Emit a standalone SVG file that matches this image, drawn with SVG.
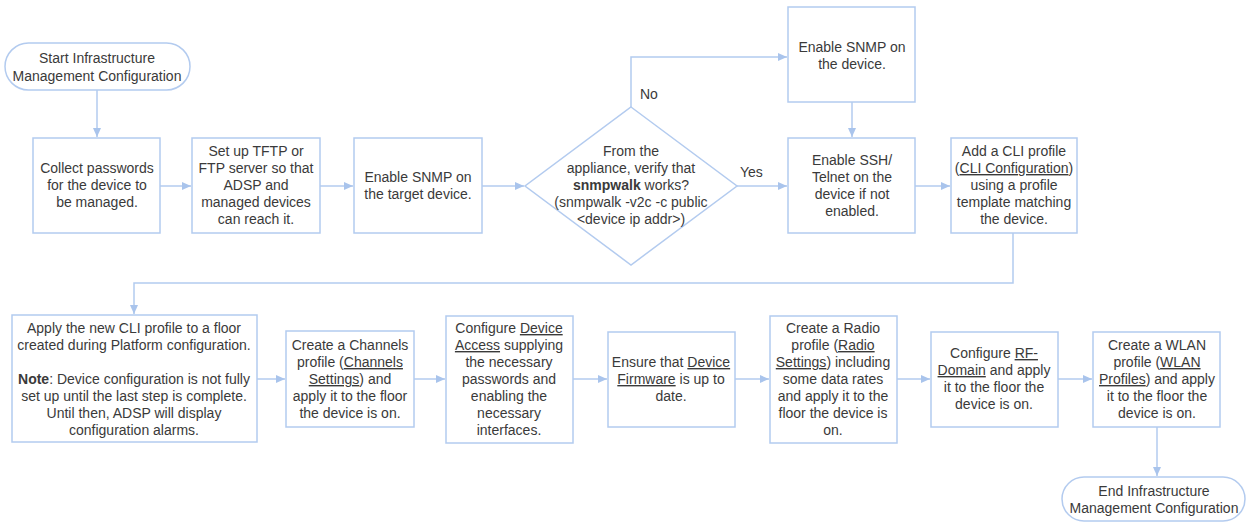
<svg xmlns="http://www.w3.org/2000/svg" width="1249" height="522" viewBox="0 0 1249 522">
<style>
.n{fill:#fff;stroke:#b3cbef;stroke-width:1.5}
.t{font-family:"Liberation Sans",Arial,sans-serif;font-size:14px;fill:#3a3a3a;text-anchor:middle}
.u{text-decoration:underline}
.c{fill:none;stroke:#b3cbef;stroke-width:1.5}
.l{font-family:"Liberation Sans",Arial,sans-serif;font-size:14px;fill:#3a3a3a}
</style>
<defs>
<marker id="a" markerWidth="10" markerHeight="10" refX="9" refY="5" orient="auto" markerUnits="userSpaceOnUse">
<path d="M0,1 L9,5 L0,9 Z" fill="#a9c4ec"/>
</marker>
</defs>
<g id="connectors">
<path class="c" d="M97,90 V137" marker-end="url(#a)"/>
<path class="c" d="M160,186 H191" marker-end="url(#a)"/>
<path class="c" d="M320,186 H353" marker-end="url(#a)"/>
<path class="c" d="M482,186 H524" marker-end="url(#a)"/>
<path class="c" d="M631,107 V57 H787" marker-end="url(#a)"/>
<path class="c" d="M737,186 H787" marker-end="url(#a)"/>
<path class="c" d="M852,102 V137" marker-end="url(#a)"/>
<path class="c" d="M915,186 H950" marker-end="url(#a)"/>
<path class="c" d="M1013,233 V283 H134 V314" marker-end="url(#a)"/>
<path class="c" d="M257,379 H285" marker-end="url(#a)"/>
<path class="c" d="M414,379 H445" marker-end="url(#a)"/>
<path class="c" d="M573,379 H607" marker-end="url(#a)"/>
<path class="c" d="M735,379 H769" marker-end="url(#a)"/>
<path class="c" d="M897,379 H930" marker-end="url(#a)"/>
<path class="c" d="M1058,379 H1092" marker-end="url(#a)"/>
<path class="c" d="M1157,427 V476" marker-end="url(#a)"/>
<text class="l" x="640" y="99">No</text>
<text class="l" x="740" y="177">Yes</text>
</g>
<g id="start">
<rect class="n" x="5" y="43" width="185" height="47" rx="23.5"/>
<text class="t"><tspan x="97" y="63">Start Infrastructure</tspan><tspan x="97" y="81">Management Configuration</tspan></text>
</g>
<g id="collect">
<rect class="n" x="33" y="138" width="127" height="95"/>
<text class="t"><tspan x="97" y="173">Collect passwords</tspan><tspan x="97" y="190">for the device to</tspan><tspan x="97" y="207">be managed.</tspan></text>
</g>
<g id="tftp">
<rect class="n" x="192" y="138" width="128" height="95"/>
<text class="t"><tspan x="256" y="156">Set up TFTP or</tspan><tspan x="256" y="173">FTP server so that</tspan><tspan x="256" y="190">ADSP and</tspan><tspan x="256" y="207">managed devices</tspan><tspan x="256" y="224">can reach it.</tspan></text>
</g>
<g id="snmp-target">
<rect class="n" x="354" y="138" width="128" height="95"/>
<text class="t"><tspan x="418" y="182">Enable SNMP on</tspan><tspan x="418" y="199">the target device.</tspan></text>
</g>
<g id="decision">
<polygon class="n" points="631,107 737,186 631,265 525,186"/>
<text class="t"><tspan x="631" y="156">From the</tspan><tspan x="631" y="173">appliance, verify that</tspan><tspan x="631" y="190"><tspan font-weight="bold">snmpwalk</tspan> works?</tspan><tspan x="631" y="207">(snmpwalk -v2c -c public</tspan><tspan x="631" y="224">&lt;device ip addr&gt;)</tspan></text>
</g>
<g id="snmp-device">
<rect class="n" x="788" y="7" width="127" height="95"/>
<text class="t"><tspan x="852" y="52">Enable SNMP on</tspan><tspan x="852" y="69">the device.</tspan></text>
</g>
<g id="ssh">
<rect class="n" x="788" y="138" width="127" height="95"/>
<text class="t"><tspan x="852" y="165">Enable SSH/</tspan><tspan x="852" y="182">Telnet on the</tspan><tspan x="852" y="199">device if not</tspan><tspan x="852" y="216">enabled.</tspan></text>
</g>
<g id="cli">
<rect class="n" x="951" y="138" width="126" height="95"/>
<text class="t"><tspan x="1014" y="156">Add a CLI profile</tspan><tspan x="1014" y="173">(<tspan class="u">CLI Configuration</tspan>)</tspan><tspan x="1014" y="190">using a profile</tspan><tspan x="1014" y="207">template matching</tspan><tspan x="1014" y="224">the device.</tspan></text>
</g>
<g id="apply">
<rect class="n" x="12" y="315" width="245" height="127"/>
<text class="t"><tspan x="134" y="333">Apply the new CLI profile to a floor</tspan><tspan x="134" y="350">created during Platform configuration.</tspan><tspan x="134" y="384"><tspan font-weight="bold">Note</tspan>: Device configuration is not fully</tspan><tspan x="134" y="401">set up until the last step is complete.</tspan><tspan x="134" y="418">Until then, ADSP will display</tspan><tspan x="134" y="435">configuration alarms.</tspan></text>
</g>
<g id="channels">
<rect class="n" x="286" y="331" width="128" height="96"/>
<text class="t"><tspan x="350" y="350">Create a Channels</tspan><tspan x="350" y="367">profile (<tspan class="u">Channels</tspan></tspan><tspan x="350" y="384"><tspan class="u">Settings</tspan>) and</tspan><tspan x="350" y="401">apply it to the floor</tspan><tspan x="350" y="418">the device is on.</tspan></text>
</g>
<g id="access">
<rect class="n" x="446" y="316" width="127" height="127"/>
<text class="t"><tspan x="509" y="333">Configure <tspan class="u">Device</tspan></tspan><tspan x="509" y="350"><tspan class="u">Access</tspan> supplying</tspan><tspan x="509" y="367">the necessary</tspan><tspan x="509" y="384">passwords and</tspan><tspan x="509" y="401">enabling the</tspan><tspan x="509" y="418">necessary</tspan><tspan x="509" y="435">interfaces.</tspan></text>
</g>
<g id="firmware">
<rect class="n" x="608" y="332" width="127" height="95"/>
<text class="t"><tspan x="671" y="367">Ensure that <tspan class="u">Device</tspan></tspan><tspan x="671" y="384"><tspan class="u">Firmware</tspan> is up to</tspan><tspan x="671" y="401">date.</tspan></text>
</g>
<g id="radio">
<rect class="n" x="770" y="316" width="127" height="127"/>
<text class="t"><tspan x="833" y="333">Create a Radio</tspan><tspan x="833" y="350">profile (<tspan class="u">Radio</tspan></tspan><tspan x="833" y="367"><tspan class="u">Settings</tspan>) including</tspan><tspan x="833" y="384">some data rates</tspan><tspan x="833" y="401">and apply it to the</tspan><tspan x="833" y="418">floor the device is</tspan><tspan x="833" y="435">on.</tspan></text>
</g>
<g id="rfdomain">
<rect class="n" x="931" y="332" width="127" height="95"/>
<text class="t"><tspan x="994" y="358">Configure <tspan class="u">RF-</tspan></tspan><tspan x="994" y="375"><tspan class="u">Domain</tspan> and apply</tspan><tspan x="994" y="392">it to the floor the</tspan><tspan x="994" y="409">device is on.</tspan></text>
</g>
<g id="wlan">
<rect class="n" x="1093" y="332" width="127" height="95"/>
<text class="t"><tspan x="1157" y="350">Create a WLAN</tspan><tspan x="1157" y="367">profile (<tspan class="u">WLAN</tspan></tspan><tspan x="1157" y="384"><tspan class="u">Profiles</tspan>) and apply</tspan><tspan x="1157" y="401">it to the floor the</tspan><tspan x="1157" y="418">device is on.</tspan></text>
</g>
<g id="end">
<rect class="n" x="1062" y="477" width="183" height="44" rx="22"/>
<text class="t"><tspan x="1154" y="496">End Infrastructure</tspan><tspan x="1154" y="513">Management Configuration</tspan></text>
</g>
</svg>
